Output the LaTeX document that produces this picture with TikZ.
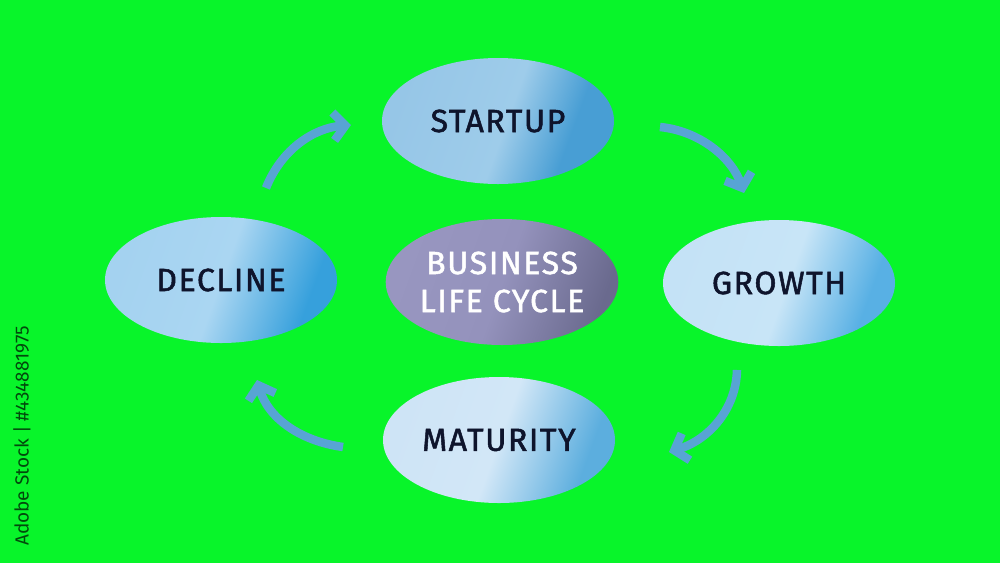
\documentclass[tikz,border=0pt]{standalone}
\usepackage{fontspec}
\setmainfont{Fira Sans}
\newfontfamily\labelfont{Fira Sans}[FakeBold=1.6,LetterSpace=5]
\usetikzlibrary{arrows.meta,shapes.geometric}
\definecolor{bggreen}{RGB}{8,245,42}
\definecolor{arrowblue}{RGB}{88,164,212}
\definecolor{txtnavy}{RGB}{14,20,44}
\definecolor{suL}{RGB}{150,198,231}\definecolor{suM}{RGB}{158,204,234}\definecolor{suR}{RGB}{72,158,212}
\definecolor{grL}{RGB}{196,226,246}\definecolor{grM}{RGB}{200,229,247}\definecolor{grR}{RGB}{88,176,228}
\definecolor{deL}{RGB}{164,210,240}\definecolor{deM}{RGB}{170,214,242}\definecolor{deR}{RGB}{54,160,220}
\definecolor{maL}{RGB}{206,228,246}\definecolor{maM}{RGB}{210,231,247}\definecolor{maR}{RGB}{92,174,222}
\definecolor{ceL}{RGB}{152,150,192}\definecolor{ceM}{RGB}{148,146,188}\definecolor{ceR}{RGB}{106,106,142}
\pgfdeclarehorizontalshading{startupshade}{100bp}{color(0bp)=(suL); color(25bp)=(suL); color(52bp)=(suM); color(68bp)=(suR); color(100bp)=(suR)}
\pgfdeclarehorizontalshading{growthshade}{100bp}{color(0bp)=(grL); color(25bp)=(grL); color(52bp)=(grM); color(72bp)=(grR); color(100bp)=(grR)}
\pgfdeclarehorizontalshading{declineshade}{100bp}{color(0bp)=(deL); color(25bp)=(deL); color(50bp)=(deM); color(72bp)=(deR); color(100bp)=(deR)}
\pgfdeclarehorizontalshading{maturityshade}{100bp}{color(0bp)=(maL); color(25bp)=(maL); color(50bp)=(maM); color(72bp)=(maR); color(100bp)=(maR)}
\pgfdeclarehorizontalshading{centershade}{100bp}{color(0bp)=(ceL); color(25bp)=(ceL); color(50bp)=(ceM); color(75bp)=(ceR); color(100bp)=(ceR)}
\begin{document}
\begin{tikzpicture}[x=1pt,y=-1pt,
  stage/.style={ellipse,minimum width=232pt,minimum height=126pt,inner sep=0pt,
    font=\labelfont\fontsize{32}{36}\selectfont,text=txtnavy,shading angle=-20},
  cyclearrow/.style={draw=arrowblue,line width=8.5pt,line cap=butt,
    -{Straight Barb[length=12pt,width=28pt]}}]
\fill[bggreen] (0,0) rectangle (1000,563);
\useasboundingbox (0,0) rectangle (1000,563);
\node[stage,shading=startupshade] (startup) at (498,121) {STARTUP};
\node[stage,shading=growthshade] (growth) at (779,283) {GROWTH};
\node[stage,shading=declineshade] (decline) at (221,280) {DECLINE};
\node[stage,shading=maturityshade] (maturity) at (499,440) {MATURITY};
\node[stage,shading=centershade,text=white,align=center,font=\labelfont\fontsize{32}{38}\selectfont] (center) at (502,282) {BUSINESS\\LIFE CYCLE};
\coordinate (a1s) at (266,188); \coordinate (a1e) at (351,125);
\coordinate (a2s) at (660,127); \coordinate (a2e) at (744,193);
\coordinate (a3s) at (737,370); \coordinate (a3e) at (669,452);
\coordinate (a4s) at (343,447); \coordinate (a4e) at (257,380);
\draw[cyclearrow] (a1s) .. controls (282,148) and (315,128) .. (a1e);
\draw[cyclearrow] (a2s) .. controls (700,131) and (732,158) .. (a2e);
\draw[cyclearrow] (a3s) .. controls (736,410) and (708,440) .. (a3e);
\draw[cyclearrow] (a4s) .. controls (300,441) and (268,418) .. (a4e);
\node[rotate=90,text=black,opacity=0.7,font=\fontsize{19}{19}\selectfont] (stockid) at (22,436) {Adobe Stock | \#434881975};
\end{tikzpicture}
\end{document}
